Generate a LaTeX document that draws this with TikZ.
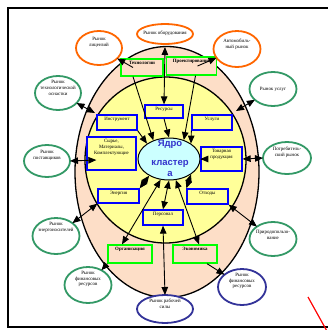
\documentclass[tikz,border=0pt]{standalone}
\usepackage{fontspec}
\setmainfont{Liberation Serif}
\newfontfamily\coresans{Liberation Sans}
\usetikzlibrary{arrows.meta,shapes.geometric,calc}
\definecolor{peach}{RGB}{253,222,199}
\definecolor{yel}{RGB}{255,255,153}
\definecolor{corecyan}{RGB}{204,255,255}
\definecolor{orng}{RGB}{255,102,0}
\definecolor{sgreen}{RGB}{51,153,102}
\definecolor{navy}{RGB}{51,51,153}
\definecolor{coretxt}{RGB}{51,51,204}
\definecolor{bbox}{RGB}{0,0,255}
\definecolor{gbox}{RGB}{0,255,0}
\begin{document}
\begin{tikzpicture}[x=1pt,y=-1pt,
  mkt/.style={ellipse,draw,line width=1.8pt,fill=white,inner sep=0pt,outer sep=0pt},
  omkt/.style={mkt,draw=orng},
  gmkt/.style={mkt,draw=sgreen},
  bmkt/.style={mkt,draw=navy},
  mtxt/.style={align=center,font=\fontsize{4.9}{5.9}\selectfont,inner sep=0pt},
  bluebox/.style={rectangle,draw=bbox,fill=yel,line width=1.3pt,inner sep=0pt},
  greenbox/.style={rectangle,draw=gbox,fill=peach,line width=1.3pt,inner sep=0pt},
  btxt/.style={align=center,font=\fontsize{4.9}{6}\selectfont,inner sep=0pt,anchor=north},
  gtxt/.style={btxt,font=\bfseries\fontsize{4.9}{6}\selectfont},
  tip/.tip={Triangle[length=8pt,width=6.5pt]},
  arr/.style={line width=0.9pt,-tip},
  darr/.style={line width=0.9pt,tip-tip}]
\useasboundingbox (0,0) rectangle (328,330);
\fill[white] (0,0) rectangle (328,330);
\draw[line width=2.5pt] (8,8) rectangle (345,327);
\draw[red,line width=1.2pt] (308,297) -- (328,333);

% rings
\node[ellipse,draw,fill=peach,line width=1.3pt,minimum width=184pt,minimum height=251pt,inner sep=0pt] (outer) at (167,172) {};
\node[ellipse,draw,fill=yel,line width=1.3pt,minimum width=161pt,minimum height=166pt,inner sep=0pt] (inner) at (165.5,160) {};

% core
\node[ellipse,draw,fill=corecyan,line width=1pt,minimum width=62pt,minimum height=42pt,inner sep=0pt] (core) at (169,159) {};

% blue boxes
\node[bluebox,minimum width=38pt,minimum height=13pt] (res) at (164,111.5) {};
\node[bluebox,minimum width=40pt,minimum height=15pt] (instr) at (117,122.5) {};
\node[bluebox,minimum width=49pt,minimum height=33pt] (syr) at (111.5,153.5) {};
\node[bluebox,minimum width=41pt,minimum height=14pt] (energ) at (118.5,196) {};
\node[bluebox,minimum width=40pt,minimum height=15pt] (usl) at (212,122.5) {};
\node[bluebox,minimum width=41pt,minimum height=24pt] (tovar) at (221.5,159) {};
\node[bluebox,minimum width=41pt,minimum height=15pt] (otkh) at (207.5,196.5) {};
\node[bluebox,minimum width=40pt,minimum height=15pt] (pers) at (163,217.5) {};
% green boxes
\node[greenbox,minimum width=42pt,minimum height=17pt] (tech) at (142,67.5) {};
\node[greenbox,minimum width=50pt,minimum height=18pt] (proj) at (191.5,66) {};
\node[greenbox,minimum width=44pt,minimum height=18pt] (org) at (130,254) {};
\node[greenbox,minimum width=44pt,minimum height=18pt] (econ) at (195,254) {};

% markets
\node[omkt,minimum width=46pt,minimum height=34pt] (lic) at (99,48) {};
\node[omkt,minimum width=56pt,minimum height=20pt] (obor) at (165,34) {};
\node[omkt,minimum width=47pt,minimum height=36pt] (avto) at (237,49) {};
\node[gmkt,minimum width=46pt,minimum height=34pt] (osn) at (58,93) {};
\node[gmkt,minimum width=46pt,minimum height=32pt] (post) at (47,161) {};
\node[gmkt,minimum width=47pt,minimum height=36pt] (enm) at (56,236) {};
\node[gmkt,minimum width=47pt,minimum height=36pt] (fing) at (88,285) {};
\node[gmkt,minimum width=47pt,minimum height=34pt] (uslm) at (273,89) {};
\node[gmkt,minimum width=48pt,minimum height=32pt] (potr) at (287,158) {};
\node[gmkt,minimum width=47pt,minimum height=34pt] (prir) at (273,239) {};
\node[bmkt,minimum width=48pt,minimum height=36pt] (finb) at (242,287) {};
\node[bmkt,minimum width=56pt,minimum height=28pt] (rab) at (165,309) {};

% market texts
\node[mtxt] (licT) at (99,42) {Рынок\\лицензий};
\node[mtxt] (oborT) at (165,33) {Рынок оборудования};
\node[mtxt] (avtoT) at (237,44) {Автомобиль-\\ный рынок};
\node[mtxt] (osnT) at (58,88) {Рынок\\технологической\\оснастки};
\node[mtxt] (postT) at (47,155) {Рынок\\поставщиков};
\node[mtxt] (enmT) at (56,227) {Рынок\\энергоносителей};
\node[mtxt] (fingT) at (88,279) {Рынок\\финансовых\\ресурсов};
\node[mtxt] (uslmT) at (273,89) {Рынок услуг};
\node[mtxt] (potrT) at (287,152) {Потребитель-\\ский рынок};
\node[mtxt] (prirT) at (273,235) {Природопользо-\\вание};
\node[mtxt] (finbT) at (242,281) {Рынок\\финансовых\\ресурсов};
\node[mtxt] (rabT) at (165,304) {Рынок рабочей\\силы};

% box texts
\node[btxt] (resT) at ($(res.north)+(0,2.5)$) {Ресурсы};
\node[btxt] (instrT) at ($(instr.north)+(0,2.5)$) {Инструмент};
\node[btxt] (syrT) at ($(syr.north)+(0,2.5)$) {Сырье,\\Материалы,\\Комплектующие};
\node[btxt] (energT) at ($(energ.north)+(0,2.5)$) {Энергия};
\node[btxt] (uslT) at ($(usl.north)+(0,2.5)$) {Услуги};
\node[btxt] (tovarT) at ($(tovar.north)+(0,2.5)$) {Товарная\\продукция};
\node[btxt] (otkhT) at ($(otkh.north)+(0,2.5)$) {Отходы};
\node[btxt] (persT) at ($(pers.north)+(0,2.5)$) {Персонал};
\node[gtxt] (techT) at ($(tech.north)+(0,3)$) {Технологии};
\node[gtxt] (projT) at ($(proj.north)+(0,3)$) {Проектирование};
\node[gtxt] (orgT) at ($(org.north)+(0,3)$) {Организация};
\node[gtxt] (econT) at ($(econ.north)+(0,3)$) {Экономика};

% ring coordinates
\coordinate (ringL) at (95,113);
\coordinate (ringR) at (236,111);
\coordinate (obring) at (165,47);

% connectors
\draw[darr] (obring) -- (res.north);
\draw[arr] (res.south) -- (core.north);
\draw[arr] ([xshift=-9pt]tech.south) -- (core.130);
\draw[arr] ([xshift=4pt]proj.south) -- (core.52);
\draw[arr] (instr.south east) -- (core.145);
\draw[arr] (usl.south west) -- (core.35);
\draw[arr] (core.east) -- (tovar.west);
\draw[darr] (tovar.east) -- (potr.west);
\draw[darr] (core.-35) -- (otkh.north west);
\draw[darr] (otkh.south east) -- (prir);
\draw[darr] (core.south) -- (pers.north);
\draw[darr] (pers.south) -- (rab.north);
\draw[darr] (core.-112) -- ([xshift=-8pt]org.north);
\draw[darr] (core.-72) -- ([xshift=4pt]econ.north);
\draw[arr] (org.south west) -- (fing);
\draw[arr] ([xshift=12pt]econ.south) -- (finb.145);
\draw[darr] (core.-140) -- (energ.north east);
\draw[darr] (energ.south west) -- (enm);
\draw[darr] (post.east) -- ([yshift=-6.5pt,xshift=10pt]syr.west);
\draw[darr] (osn) -- (ringL);
\draw[darr] (uslm) -- (ringR);
\draw[arr] ([xshift=-9pt]tech.center) -- (lic);
\draw[arr] ([xshift=6pt]proj.center) -- (avto);

% core text
\node[align=center,text=coretxt,font=\coresans\bfseries\fontsize{9.5}{11}\selectfont,inner sep=0pt] (coretext) at (170,158.5) {Ядро\\[8pt]кластер\\[0pt]а};
\end{tikzpicture}
\end{document}
